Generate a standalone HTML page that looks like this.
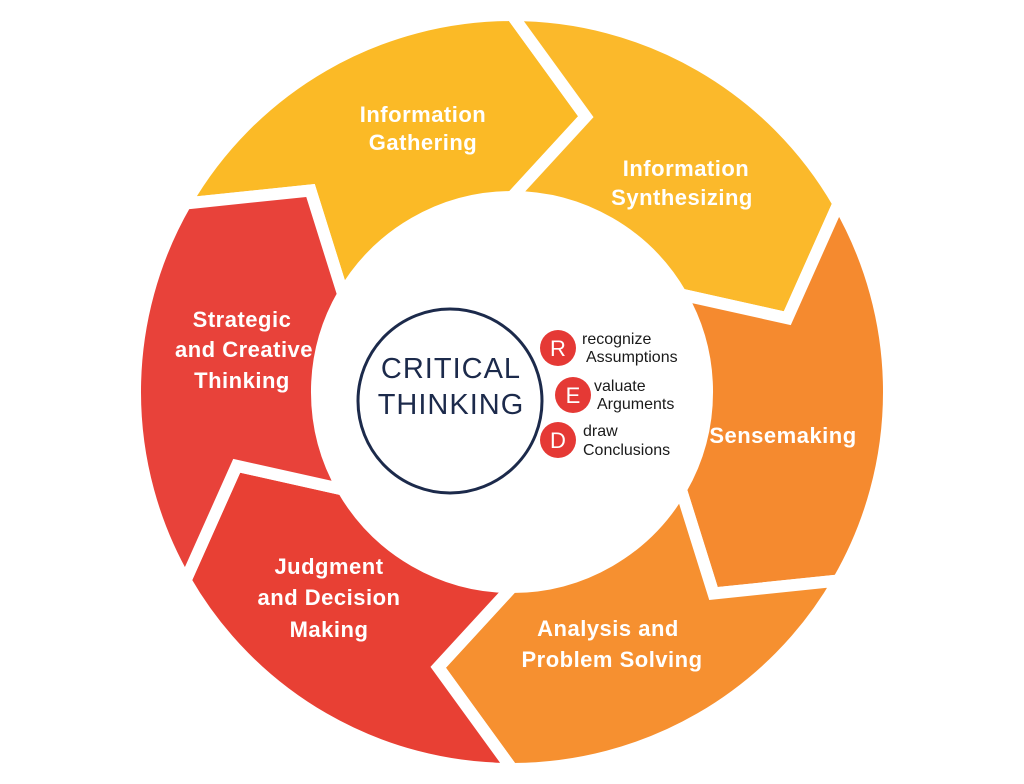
<!DOCTYPE html>
<html><head><meta charset="utf-8"><style>
html,body{margin:0;padding:0;background:#fff;width:1024px;height:784px;overflow:hidden}
svg{display:block}
.l{font-family:"Liberation Sans",sans-serif;font-weight:bold;font-size:22px;fill:#fff;text-anchor:middle;letter-spacing:0.5px}
.s{font-family:"Liberation Sans",sans-serif;font-size:16px;fill:#1a1a1a}
</style></head><body>
<svg width="1024" height="784" viewBox="0 0 1024 784">
<g stroke="#fff" stroke-width="12" stroke-linejoin="miter">
<path fill="#FBBA26" d="M185.5,203.5 A377,377 0 0 1 512,15 L585.8,116.7 L512,197 A195,195 0 0 0 343.1,294.5 L310.5,190.5 Z"/>
<path fill="#FBB92B" d="M512,15 A377,377 0 0 1 838.5,203.5 L787.3,318.2 L680.9,294.5 A195,195 0 0 0 512,197 L585.8,116.7 Z"/>
<path fill="#F58A2F" d="M838.5,203.5 A377,377 0 0 1 838.5,580.5 L713.5,593.5 L680.9,489.5 A195,195 0 0 0 680.9,294.5 L787.3,318.2 Z"/>
<path fill="#F69030" d="M838.5,580.5 A377,377 0 0 1 512,769 L438.2,667.3 L512,587 A195,195 0 0 0 680.9,489.5 L713.5,593.5 Z"/>
<path fill="#E84034" d="M512,769 A377,377 0 0 1 185.5,580.5 L236.7,465.8 L343.1,489.5 A195,195 0 0 0 512,587 L438.2,667.3 Z"/>
<path fill="#E8423A" d="M185.5,580.5 A377,377 0 0 1 185.5,203.5 L310.5,190.5 L343.1,294.5 A195,195 0 0 0 343.1,489.5 L236.7,465.8 Z"/>
</g>
<text class="l" x="423" y="122">Information</text>
<text class="l" x="423" y="150">Gathering</text>
<text class="l" x="686" y="176">Information</text>
<text class="l" x="682" y="205">Synthesizing</text>
<text class="l" x="783" y="443">Sensemaking</text>
<text class="l" x="608" y="636">Analysis and</text>
<text class="l" x="612" y="667">Problem Solving</text>
<text class="l" x="329" y="574">Judgment</text>
<text class="l" x="329" y="605">and Decision</text>
<text class="l" x="329" y="637">Making</text>
<text class="l" x="242" y="327">Strategic</text>
<text class="l" x="244" y="357">and Creative</text>
<text class="l" x="242" y="388">Thinking</text>
<circle cx="450" cy="401" r="92" fill="#fff" stroke="#1C2A4B" stroke-width="3"/>
<text x="451" y="378" font-family="Liberation Sans,sans-serif" font-size="29" fill="#1C2A4B" text-anchor="middle" letter-spacing="1">CRITICAL</text>
<text x="451" y="414" font-family="Liberation Sans,sans-serif" font-size="29" fill="#1C2A4B" text-anchor="middle" letter-spacing="1">THINKING</text>
<circle cx="558" cy="348" r="18" fill="#E53935"/>
<circle cx="573" cy="395" r="18" fill="#E53935"/>
<circle cx="558" cy="440" r="18" fill="#E53935"/>
<text x="558" y="356" font-family="Liberation Sans,sans-serif" font-size="22" fill="#fff" text-anchor="middle">R</text>
<text x="573" y="403" font-family="Liberation Sans,sans-serif" font-size="22" fill="#fff" text-anchor="middle">E</text>
<text x="558" y="448" font-family="Liberation Sans,sans-serif" font-size="22" fill="#fff" text-anchor="middle">D</text>
<text class="s" x="582" y="344">recognize</text>
<text class="s" x="586" y="362">Assumptions</text>
<text class="s" x="594" y="391">valuate</text>
<text class="s" x="597" y="409">Arguments</text>
<text class="s" x="583" y="436">draw</text>
<text class="s" x="583" y="455">Conclusions</text>
</svg>
</body></html>
